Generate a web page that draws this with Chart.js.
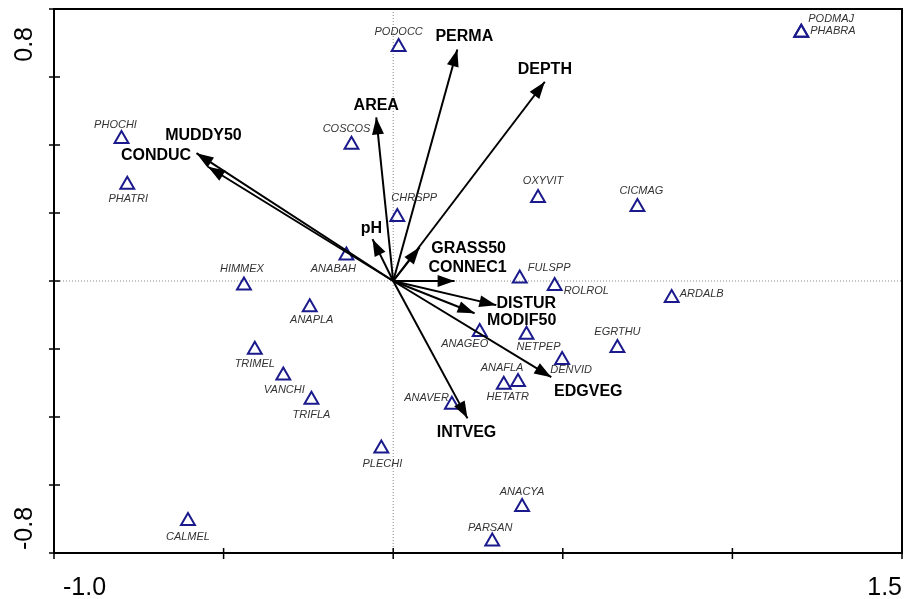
<!DOCTYPE html>
<html>
<head>
<meta charset="utf-8">
<script src="https://cdn.jsdelivr.net/npm/chart.js@4.4.1/dist/chart.umd.min.js"></script>
<style>
  html, body { margin: 0; padding: 0; background: #fff; }
  #wrap { width: 904px; height: 599px; }
</style>
</head>
<body>
<div id="wrap"><canvas id="cca" width="904" height="599"></canvas></div>
<script>
// --- species scores (axis 1, axis 2) ---
const speciesNames = ['PODOCC', 'PODMAJ', 'PHABRA', 'PHOCHI', 'PHATRI', 'COSCOS', 'CHRSPP', 'ANABAH',
    'OXYVIT', 'CICMAG', 'FULSPP', 'ROLROL', 'ARDALB', 'HIMMEX', 'ANAPLA', 'TRIMEL', 'VANCHI', 'TRIFLA',
    'CALMEL', 'PLECHI', 'ANAGEO', 'NETPEP', 'DENVID', 'EGRTHU', 'ANAFLA', 'HETATR', 'ANAVER', 'ANACYA', 'PARSAN'];
const speciesX = [0.016, 1.203, 1.203, -0.801, -0.784, -0.123, 0.012, -0.138,
    0.427, 0.720, 0.373, 0.476, 0.821, -0.440, -0.246, -0.408, -0.324, -0.241,
    -0.605, -0.035, 0.255, 0.393, 0.498, 0.661, 0.368, 0.326, 0.173, 0.380, 0.292];
const speciesY = [0.688, 0.730, 0.730, 0.418, 0.283, 0.401, 0.188, 0.075,
    0.244, 0.218, 0.007, -0.015, -0.050, -0.013, -0.077, -0.202, -0.278, -0.349,
    -0.706, -0.493, -0.150, -0.158, -0.232, -0.197, -0.297, -0.305, -0.364, -0.665, -0.766];

// --- environmental variables (arrow tips) ---
const envNames = ['PERMA', 'DEPTH', 'AREA', 'pH', 'GRASS50', 'CONNEC1', 'MUDDY50', 'CONDUC',
    'DISTUR', 'MODIF50', 'EDGVEG', 'INTVEG'];
const envX = [0.189, 0.447, -0.050, -0.061, 0.078, 0.181, -0.580, -0.546, 0.304, 0.240, 0.466, 0.219];
const envY = [0.681, 0.586, 0.481, 0.123, 0.099, 0.000, 0.376, 0.336, -0.071, -0.095, -0.283, -0.404];

// --- axes ---
const xRange = [-1.0, 1.5];
const yRange = [-0.8, 0.8];
const xTicks = [-1.0, -0.5, 0, 0.5, 1.0, 1.5];
const yTicks = [-0.8, -0.6, -0.4, -0.2, 0, 0.2, 0.4, 0.6, 0.8];
const xTickLabels = ['-1.0', '1.5'];   // only the ends carry a label
const yTickLabels = ['-0.8', '0.8'];

// label nudges in px from the mark (dx, dy, align)
const speciesLabelAt = [
    [0, -15], [7, -14, 'left'], [9, -2, 'left'], [-6, -14], [1, 14], [-5, -16], [17, -19], [-13, 13],
    [5, -17], [4, -16], [8, -11, 'left'], [9, 5, 'left'], [8, -4, 'left'], [-2, -16], [2, 13], [0, 14],
    [1, 14], [0, 15], [0, 16], [1, 15], [-15, 12], [12, 12], [9, 10], [0, -16], [-16, -14], [4, 12],
    [-3, -7, 'right'], [0, -15], [-2, -14]
];
const envLabelAt = [[7, -13], [0, -12], [0, -12], [-1, -11], [49, 1], [13, -13], [7, -18], [-52, -11],
    [30, -2], [47, 7], [37, 14], [-1, 14]];

const FONT = '"Liberation Sans", Arial, sans-serif';

const biplot = {
    id: 'biplot',
    afterDatasetsDraw(chart) {
        const { ctx, chartArea: a, scales: { x, y } } = chart;
        const ox = x.getPixelForValue(0), oy = y.getPixelForValue(0);
        ctx.save();

        // arrow heads
        ctx.fillStyle = '#000';
        envNames.forEach((n, i) => {
            const tx = x.getPixelForValue(envX[i]), ty = y.getPixelForValue(envY[i]);
            const ang = Math.atan2(ty - oy, tx - ox);
            const L = 17, W = 6;
            const c = Math.cos(ang), s = Math.sin(ang);
            ctx.beginPath();
            ctx.moveTo(tx, ty);
            ctx.lineTo(tx - L * c + W * s, ty - L * s - W * c);
            ctx.lineTo(tx - L * c - W * s, ty - L * s + W * c);
            ctx.closePath();
            ctx.fill();
        });

        // env labels
        ctx.font = 'bold 16px ' + FONT;
        ctx.textAlign = 'center';
        ctx.textBaseline = 'middle';
        envNames.forEach((n, i) => {
            const tx = x.getPixelForValue(envX[i]), ty = y.getPixelForValue(envY[i]);
            ctx.fillText(n, tx + envLabelAt[i][0], ty + envLabelAt[i][1]);
        });

        // species labels
        ctx.font = 'italic 11px ' + FONT;
        ctx.fillStyle = '#333';
        speciesNames.forEach((n, i) => {
            const [dx, dy, al] = speciesLabelAt[i];
            ctx.textAlign = al || 'center';
            ctx.fillText(n, x.getPixelForValue(speciesX[i]) + dx, y.getPixelForValue(speciesY[i]) + dy);
        });

        // frame
        ctx.strokeStyle = '#000';
        ctx.lineWidth = 2;
        ctx.strokeRect(a.left, a.top, a.right - a.left, a.bottom - a.top);

        // tick marks crossing the axes
        ctx.lineWidth = 1.5;
        ctx.beginPath();
        xTicks.forEach(v => {
            const px = x.getPixelForValue(v);
            ctx.moveTo(px, a.bottom - 5);
            ctx.lineTo(px, a.bottom + 6);
        });
        yTicks.forEach(v => {
            const py = y.getPixelForValue(v);
            ctx.moveTo(a.left - 5, py);
            ctx.lineTo(a.left + 6, py);
        });
        ctx.stroke();

        // tick labels
        ctx.fillStyle = '#000';
        ctx.font = '25px ' + FONT;
        ctx.textBaseline = 'alphabetic';
        ctx.textAlign = 'left';
        ctx.fillText(xTickLabels[0], x.getPixelForValue(parseFloat(xTickLabels[0])) + 9, 595);
        ctx.textAlign = 'right';
        ctx.fillText(xTickLabels[1], x.getPixelForValue(parseFloat(xTickLabels[1])), 595);

        ctx.save();
        ctx.translate(32, y.getPixelForValue(parseFloat(yTickLabels[0])) - 3);
        ctx.rotate(-Math.PI / 2);
        ctx.textAlign = 'left';
        ctx.fillText(yTickLabels[0], 0, 0);
        ctx.restore();

        ctx.save();
        ctx.translate(32, y.getPixelForValue(parseFloat(yTickLabels[1])) + 18);
        ctx.rotate(-Math.PI / 2);
        ctx.textAlign = 'right';
        ctx.fillText(yTickLabels[1], 0, 0);
        ctx.restore();

        ctx.restore();
    }
};

const zeroLines = [
    { data: [{ x: xRange[0], y: 0 }, { x: xRange[1], y: 0 }] },
    { data: [{ x: 0, y: yRange[0] }, { x: 0, y: yRange[1] }] }
].map(d => ({
    ...d, showLine: true, borderColor: '#888', borderWidth: 1, borderDash: [1, 2],
    pointRadius: 0, order: 3
}));

const arrows = envNames.map((n, i) => ({
    label: n,
    data: [{ x: 0, y: 0 }, { x: envX[i], y: envY[i] }],
    showLine: true,
    borderColor: '#000',
    borderWidth: 2,
    pointRadius: 0,
    order: 1
}));

const species = {
    label: 'species',
    data: speciesNames.map((n, i) => ({ x: speciesX[i], y: speciesY[i] })),
    pointStyle: 'triangle',
    pointRadius: 8,
    pointBorderWidth: 2,
    borderColor: '#1a1a8c',
    pointBorderColor: '#1a1a8c',
    pointBackgroundColor: 'rgba(255,255,255,0)',
    order: 2
};

new Chart(document.getElementById('cca'), {
    type: 'scatter',
    data: { datasets: [...zeroLines, ...arrows, species] },
    options: {
        responsive: false,
        animation: false,
        events: [],
        layout: { autoPadding: false, padding: { left: 54, right: 2, top: 9, bottom: 46 } },
        scales: {
            x: { type: 'linear', min: xRange[0], max: xRange[1], display: false },
            y: { type: 'linear', min: yRange[0], max: yRange[1], display: false }
        },
        plugins: { legend: { display: false }, tooltip: { enabled: false } }
    },
    plugins: [biplot]
});
</script>
</body>
</html>
